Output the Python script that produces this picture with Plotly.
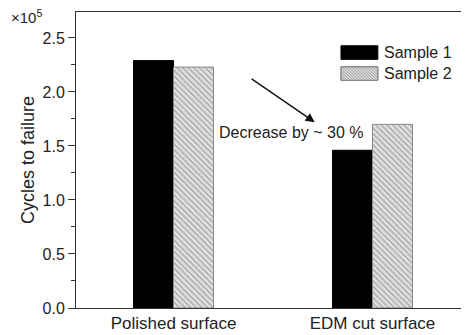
import plotly.graph_objects as go

categories = ["Polished surface", "EDM cut surface"]
sample1 = [2.29, 1.46]
sample2 = [2.23, 1.70]
series_names = ["Sample 1", "Sample 2"]
y_ticks = [0.0, 0.5, 1.0, 1.5, 2.0, 2.5]

FONT = "Liberation Sans, Arial, sans-serif"
TXT = "#222"
HATCH_BG = "#e2e2e2"
HATCH_FG = "#6a6a6a"

fig = go.Figure()
fig.add_trace(go.Bar(
    x=categories, y=sample1, name=series_names[0],
    marker=dict(color="black", line=dict(color="black", width=1)),
    showlegend=False,
))
fig.add_trace(go.Bar(
    x=categories, y=sample2, name=series_names[1],
    marker=dict(color=HATCH_BG, line=dict(color="#888", width=1),
                pattern=dict(shape="\\", fgcolor=HATCH_FG, bgcolor=HATCH_BG,
                             size=4, solidity=0.35)),
    showlegend=False,
))

# page body has an 8px margin, so the figure is shifted; margins compensate
W, H = 469, 335
ML, MR, MT, MB = 68, 9, 4, 35
PW, PH = W - ML - MR, H - MT - MB

fig.update_layout(
    width=W, height=H,
    margin=dict(l=ML, r=MR, t=MT, b=MB),
    paper_bgcolor="white", plot_bgcolor="white",
    barmode="group", bargap=0.598, bargroupgap=0,
    font=dict(family=FONT, size=16, color=TXT),
    xaxis=dict(range=[-0.49, 1.48], showline=True, linecolor="#333", linewidth=1,
               mirror=True, ticks="", showgrid=False, zeroline=False,
               tickfont=dict(size=17, color=TXT)),
    yaxis=dict(range=[0, 2.74], showline=True, linecolor="#333", linewidth=1,
               ticks="outside", ticklen=7, tickwidth=1, tickcolor="#333",
               tickvals=y_ticks, ticktext=[f"{v:.1f}" for v in y_ticks],
               minor=dict(ticks="outside", ticklen=4, tickcolor="#333", dtick=0.25,
                          showgrid=False),
               showgrid=False, zeroline=False,
               tickfont=dict(size=16, color=TXT),
               title=dict(text="Cycles to failure", font=dict(size=18, color=TXT),
                          standoff=3)),
)

# x10^5 label
fig.add_annotation(xref="paper", yref="paper", x=-0.17, y=0.985, xanchor="left",
                   yanchor="middle", showarrow=False,
                   text="×10<sup>5</sup>", font=dict(size=15, color=TXT))

# legend drawn manually
def px_x(p):  # plot-area pixel -> paper
    return p / PW

def px_y(p):
    return p / PH

box_x0, box_x1 = 0.676, 0.770
half_h = 0.023
leg_y = [0.863, 0.792]
leg_styles = [
    dict(fillcolor="black", line=dict(color="black", width=1)),
    dict(fillcolor=HATCH_BG, line=dict(color="#888", width=1)),
]
for name, style, yy in zip(series_names, leg_styles, leg_y):
    fig.add_shape(type="rect", xref="paper", yref="paper",
                  x0=box_x0, x1=box_x1, y0=yy - half_h, y1=yy + half_h, **style)
    fig.add_annotation(xref="paper", yref="paper", x=0.78, y=yy, xanchor="left",
                       yanchor="middle", showarrow=False, text=name,
                       font=dict(size=16, color=TXT))

# hatch lines inside the Sample 2 legend box ("\" direction)
yy = leg_y[1]
bx0, bx1 = box_x0 * PW, box_x1 * PW
by0, by1 = (yy - half_h) * PH, (yy + half_h) * PH
bh = by1 - by0
step = 3.0
s = bx0 - bh
while s < bx1:
    x_a, y_a = s, by1
    x_b, y_b = s + bh, by0
    if x_a < bx0:
        y_a = by1 - (bx0 - x_a)
        x_a = bx0
    if x_b > bx1:
        y_b = by0 + (x_b - bx1)
        x_b = bx1
    if x_b > x_a:
        fig.add_shape(type="line", xref="paper", yref="paper",
                      x0=px_x(x_a), y0=px_y(y_a), x1=px_x(x_b), y1=px_y(y_b),
                      line=dict(color=HATCH_FG, width=0.7))
    s += step
fig.add_shape(type="rect", xref="paper", yref="paper",
              x0=box_x0, x1=box_x1, y0=yy - half_h, y1=yy + half_h,
              line=dict(color="#888", width=1), fillcolor="rgba(0,0,0,0)")

# arrow
fig.add_annotation(x=0.71, y=1.72, xref="x", yref="y", ax=0.385, ay=2.13,
                   axref="x", ayref="y", showarrow=True, arrowhead=2,
                   arrowsize=1.3, arrowwidth=1.4, arrowcolor="#111", text="")
fig.add_annotation(x=0.595, y=1.62, xref="x", yref="y", showarrow=False,
                   text="Decrease by ~ 30 %", font=dict(size=16, color=TXT))

fig.write_html("out.html")
